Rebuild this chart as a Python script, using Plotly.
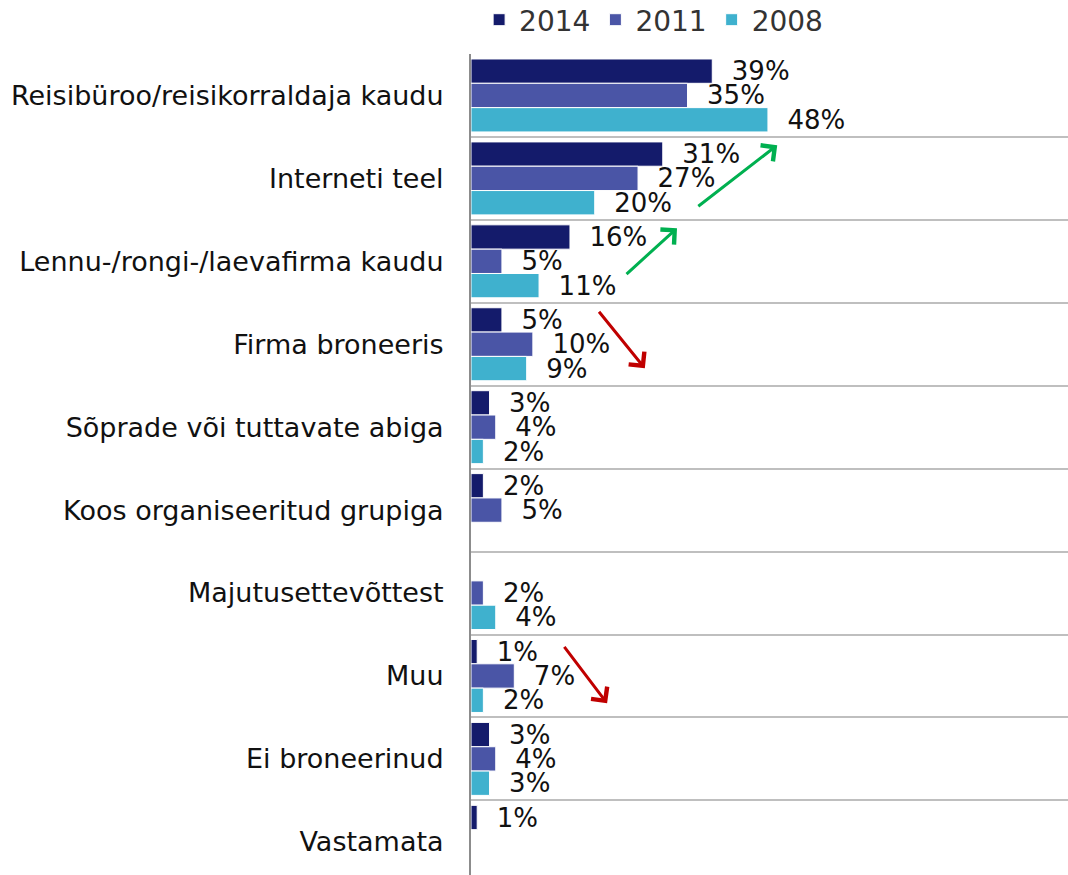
import plotly.graph_objects as go

categories = [
    "Reisibüroo/reisikorraldaja kaudu",
    "Interneti teel",
    "Lennu-/rongi-/laevafirma kaudu",
    "Firma broneeris",
    "Sõprade või tuttavate abiga",
    "Koos organiseeritud grupiga",
    "Majutusettevõttest",
    "Muu",
    "Ei broneerinud",
    "Vastamata",
]
series_names = ["2014", "2011", "2008"]
values_2014 = [39, 31, 16, 5, 3, 2, None, 1, 3, 1]
values_2011 = [35, 27, 5, 10, 4, 5, 2, 7, 4, None]
values_2008 = [48, 20, 11, 9, 2, None, 4, 2, 3, None]
colors = ["#141B6B", "#4A55A6", "#3FB1CE"]

# trend arrows: (x_tail, y_tail, x_head, y_head, color) in data units
arrows = [
    (36.5, 1.35, 49.5, 0.60, "#00B050"),
    (24.9, 2.17, 33.3, 1.60, "#00B050"),
    (20.5, 2.59, 28.1, 3.29, "#C00000"),
    (14.9, 6.63, 22.0, 7.33, "#C00000"),
]

font_family = "DejaVu Sans, Verdana, sans-serif"

fig = go.Figure()
for name, vals, col in zip(series_names, [values_2014, values_2011, values_2008], colors):
    fig.add_trace(go.Bar(
        name=name,
        y=categories,
        x=vals,
        orientation="h",
        marker=dict(color=col, line=dict(color="white", width=1)),
        text=["" if v is None else "\u00a0\u00a0%d%%" % v for v in vals],
        textposition="outside",
        constraintext="none",
        cliponaxis=False,
        textfont=dict(size=26, color="#111111", family=font_family),
        hoverinfo="skip",
    ))

for xt, yt, xh, yh, col in arrows:
    fig.add_annotation(
        x=xh, y=yh, ax=xt, ay=yt,
        xref="x", yref="y", axref="x", ayref="y",
        showarrow=True, arrowhead=4, arrowsize=1.3, arrowwidth=3,
        arrowcolor=col, text="",
    )

fig.update_layout(
    width=1068, height=875,
    autosize=False,
    margin=dict(l=471, r=0, t=54, b=0, autoexpand=False),
    barmode="group",
    bargap=0.12,
    bargroupgap=0,
    plot_bgcolor="white",
    paper_bgcolor="white",
    font=dict(family=font_family, size=27, color="#111111"),
    legend=dict(
        orientation="h",
        xref="container", yref="container",
        x=0.612, xanchor="center",
        y=1 - 20 / 875, yanchor="middle",
        font=dict(size=28, color="#333333", family=font_family),
        traceorder="normal",
        itemwidth=30,
    ),
    showlegend=True,
)
fig.update_xaxes(
    range=[0, 96.5],
    showgrid=False, zeroline=False, showticklabels=False, showline=False,
)
fig.update_yaxes(
    type="category",
    categoryorder="array", categoryarray=categories,
    range=[9.4, -0.5],
    tickson="boundaries",
    showgrid=True, gridcolor="#BFBFBF", gridwidth=2,
    showline=True, linecolor="#8C8C8C", linewidth=2,
    ticks="", ticklabelstandoff=20,
    tickfont=dict(size=27, color="#111111", family=font_family),
)

fig.write_html(
    "out.html",
    config={"responsive": False, "displayModeBar": False},
    post_script="document.body.style.margin='0';document.body.style.overflow='hidden';",
)
